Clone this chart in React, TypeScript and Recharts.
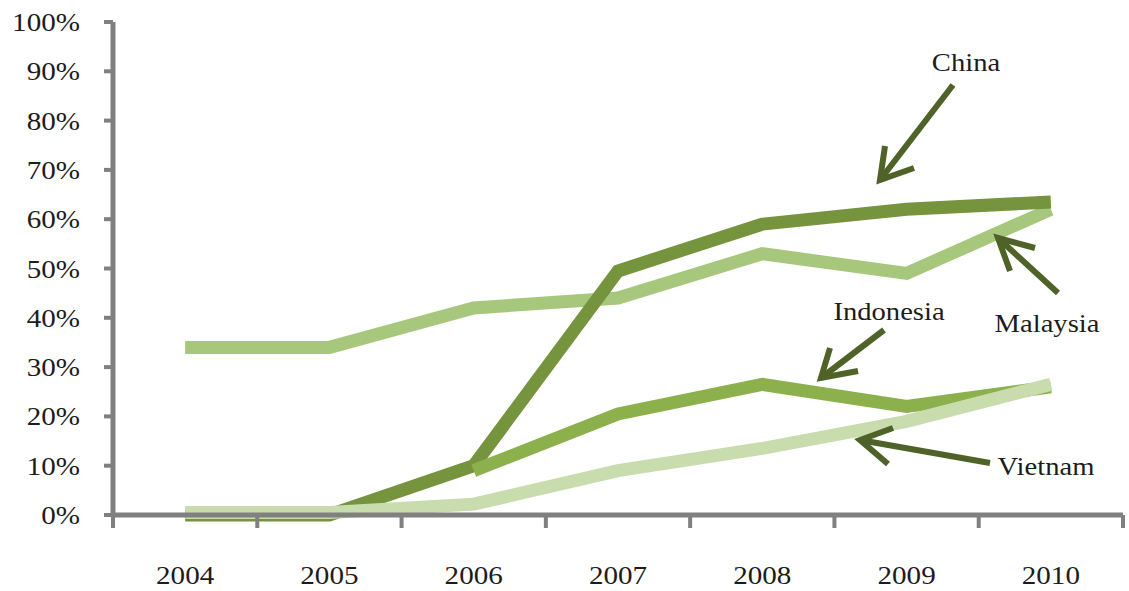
import React from 'react';
import { LineChart, Line, XAxis, YAxis } from 'recharts';

const years = ['2004', '2005', '2006', '2007', '2008', '2009', '2010'];
const china = [0, 0, 10, 49.5, 59, 62, 63.5];
const malaysia = [34, 34, 42, 44, 53, 49, 62];
const indonesia = [null, null, 9, 20.5, 26.5, 22, 26];
const vietnam = [0.5, 0.5, 2.2, 9, 13.5, 19, 26.5];
const yTicks = [0, 10, 20, 30, 40, 50, 60, 70, 80, 90, 100];

const data = years.map((year, i) => ({
  year,
  China: china[i],
  Malaysia: malaysia[i],
  Indonesia: indonesia[i],
  Vietnam: vietnam[i],
}));

const W = 1129;
const H = 591;
const margin = { top: 22, right: 6, bottom: 6, left: 0 };
const Y_AXIS_W = 113;
const PLOT_W = W - margin.left - margin.right - Y_AXIS_W;
const BAND = PLOT_W / years.length;

const AXIS = '#808080';
const TEXT = '#1c1c1c';
const ARROW = '#4f6228';
const FONT = '"Liberation Serif", "Times New Roman", serif';

// annotation arrows (pixel layout, not data)
const notes = [
  { label: 'China', tx: 966, ty: 71, from: [953, 85], tip: [880, 180], w1: [885, 146], w2: [914, 168] },
  { label: 'Malaysia', tx: 1047, ty: 332, from: [1058, 293], tip: [998, 238], w1: [1010, 271], w2: [1035, 248] },
  { label: 'Indonesia', tx: 889, ty: 320, from: [884, 330], tip: [821, 378], w1: [830, 348], w2: [858, 371] },
  { label: 'Vietnam', tx: 1046, ty: 475, from: [990, 463], tip: [860, 440], w1: [888, 464], w2: [893, 428] },
];

const XTick = (props: any) => {
  const { x, y, payload, index } = props;
  return (
    <g>
      <line x1={x - BAND / 2} x2={x - BAND / 2} y1={y} y2={y + 13} stroke={AXIS} strokeWidth={4} />
      {index === years.length - 1 && (
        <line x1={x + BAND / 2} x2={x + BAND / 2} y1={y} y2={y + 13} stroke={AXIS} strokeWidth={4} />
      )}
      <text transform={`translate(${x},${y + 69}) scale(1.12,1)`} textAnchor="middle" fontSize={26} fill={TEXT} fontFamily={FONT}>
        {payload.value}
      </text>
    </g>
  );
};

const YTick = (props: any) => {
  const { x, y, payload } = props;
  return (
    <text transform={`translate(${x},${y + 9}) scale(1.12,1)`} textAnchor="end" fontSize={26} fill={TEXT} fontFamily={FONT}>
      {payload.value}%
    </text>
  );
};

export default function App() {
  return (
    <div style={{ position: 'relative', width: W, height: H, background: '#fff' }}>
      <style>{'body{margin:0;}'}</style>
      <LineChart width={W} height={H} data={data} margin={margin}>
        <XAxis
          dataKey="year"
          height={70}
          padding={{ left: BAND / 2, right: BAND / 2 }}
          axisLine={{ stroke: AXIS, strokeWidth: 5 }}
          tickLine={false}
          tickSize={0}
          tickMargin={0}
          tick={<XTick />}
          interval={0}
        />
        <YAxis
          width={Y_AXIS_W}
          domain={[0, 100]}
          ticks={yTicks}
          axisLine={{ stroke: AXIS, strokeWidth: 5 }}
          tickLine={{ stroke: AXIS, strokeWidth: 4 }}
          tickSize={9}
          tickMargin={24}
          tick={<YTick />}
          interval={0}
        />
        <Line dataKey="Malaysia" type="linear" stroke="#a6c77c" strokeWidth={13} dot={false} activeDot={false} isAnimationActive={false} />
        <Line dataKey="China" type="linear" stroke="#76943d" strokeWidth={13} dot={false} activeDot={false} isAnimationActive={false} />
        <Line dataKey="Indonesia" type="linear" stroke="#8bb04c" strokeWidth={13} dot={false} activeDot={false} isAnimationActive={false} />
        <Line dataKey="Vietnam" type="linear" stroke="#c8dcae" strokeWidth={13} dot={false} activeDot={false} isAnimationActive={false} />
      </LineChart>
      <svg width={W} height={H} style={{ position: 'absolute', left: 0, top: 0, pointerEvents: 'none' }}>
        {notes.map((n) => (
          <g key={n.label}>
            <line x1={n.from[0]} y1={n.from[1]} x2={n.tip[0]} y2={n.tip[1]} stroke={ARROW} strokeWidth={6} />
            <polyline
              points={`${n.w1[0]},${n.w1[1]} ${n.tip[0]},${n.tip[1]} ${n.w2[0]},${n.w2[1]}`}
              fill="none"
              stroke={ARROW}
              strokeWidth={6}
            />
            <text transform={`translate(${n.tx},${n.ty}) scale(1.1,1)`} textAnchor="middle" fontSize={26} fill={TEXT} fontFamily={FONT}>
              {n.label}
            </text>
          </g>
        ))}
      </svg>
    </div>
  );
}
